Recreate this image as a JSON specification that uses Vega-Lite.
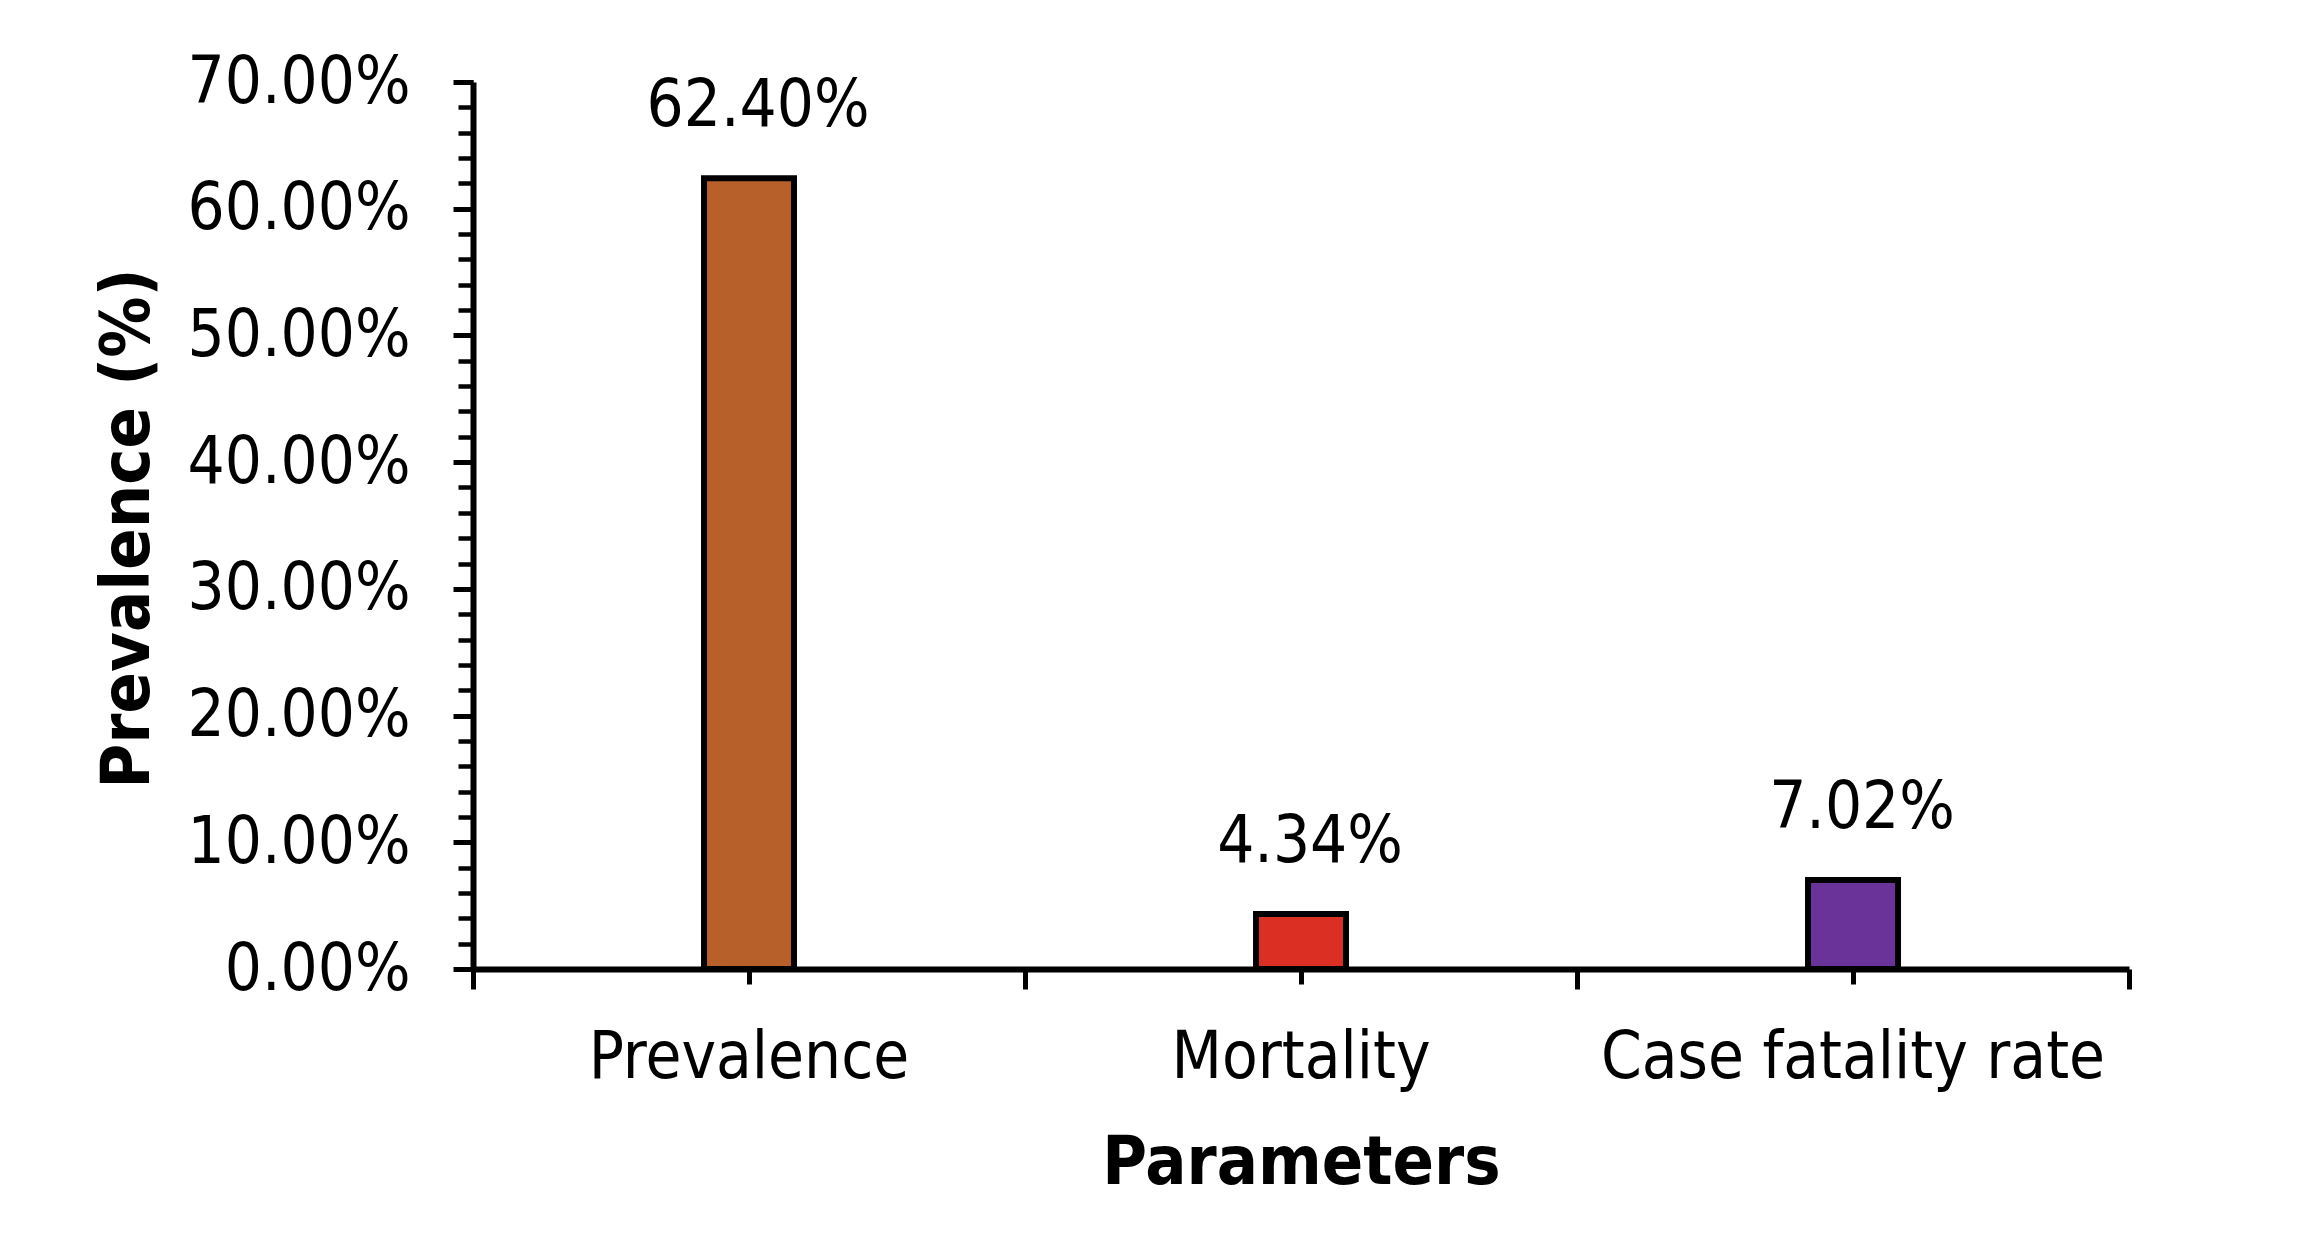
{
  "$schema": "https://vega.github.io/schema/vega-lite/v6.json",
  "autosize": {"type": "none"},
  "padding": {"left": 473, "top": 82, "right": 169, "bottom": 277},
  "width": 1656,
  "height": 887,
  "background": "white",
  "config": {
    "view": {"stroke": null},
    "font": "DejaVu Sans Condensed",
    "axis": {
      "labelFont": "DejaVu Sans Condensed",
      "titleFont": "DejaVu Sans Condensed",
      "labelColor": "black",
      "titleColor": "black",
      "domainColor": "black",
      "tickColor": "black",
      "labelLimit": 0,
      "titleLimit": 0,
      "grid": false
    }
  },
  "data": {
    "values": [
      {"parameter": "Prevalence", "value": 0.624},
      {"parameter": "Mortality", "value": 0.0434},
      {"parameter": "Case fatality rate", "value": 0.0702}
    ]
  },
  "layer": [
    {
      "mark": {"type": "bar", "width": {"band": 0.163}, "stroke": "black", "strokeWidth": 6, "strokeJoin": "miter"},
      "encoding": {
        "x": {
          "field": "parameter", "type": "nominal", "sort": null,
          "scale": {"paddingInner": 0, "paddingOuter": 0},
          "axis": {
            "orient": "bottom",
            "title": "Parameters",
            "titleFontSize": 68, "titleFontWeight": "bold",
            "titleBaseline": "alphabetic", "titleY": 214,
            "labelFontSize": 65, "labelAngle": 0, "labelPadding": 42,
            "tickSize": 15, "tickWidth": 5, "domainWidth": 6
          }
        },
        "y": {
          "field": "value", "type": "quantitative",
          "scale": {"domain": [0, 0.7], "nice": false},
          "axis": {
            "orient": "left",
            "title": "Prevalence (%)",
            "titleFontSize": 68, "titleFontWeight": "bold",
            "titleAngle": 270, "titleBaseline": "alphabetic",
            "titleX": -325, "titleY": 446, "titleAlign": "center",
            "values": [0, 0.1, 0.2, 0.3, 0.4, 0.5, 0.6, 0.7],
            "format": ".2%",
            "labelFontSize": 65, "labelPadding": 43,
            "tickSize": 20, "tickWidth": 5, "domainWidth": 6
          }
        },
        "color": {
          "field": "parameter", "type": "nominal", "sort": null,
          "scale": {"domain": ["Prevalence", "Mortality", "Case fatality rate"], "range": ["#B8602A", "#DA2F22", "#6A3399"]},
          "legend": null
        }
      }
    },
    {
      "mark": {"type": "text", "fontSize": 65, "baseline": "alphabetic", "align": "center", "dy": -52, "dx": 9, "color": "black", "font": "DejaVu Sans Condensed"},
      "encoding": {
        "x": {
          "field": "parameter", "type": "nominal", "sort": null,
          "axis": {
            "orient": "bottom", "title": null, "labels": false, "domain": false,
            "tickBand": "extent", "tickSize": 20, "tickWidth": 5
          }
        },
        "y": {
          "field": "value", "type": "quantitative",
          "axis": {
            "orient": "left", "title": null, "labels": false, "domain": false,
            "values": [0, 0.02, 0.04, 0.06, 0.08, 0.1, 0.12, 0.14, 0.16, 0.18, 0.2, 0.22, 0.24, 0.26, 0.28, 0.3, 0.32, 0.34, 0.36, 0.38, 0.4, 0.42, 0.44, 0.46, 0.48, 0.5, 0.52, 0.54, 0.56, 0.58, 0.6, 0.62, 0.64, 0.66, 0.68, 0.7],
            "tickSize": 15, "tickWidth": 4.5
          }
        },
        "text": {"field": "value", "type": "quantitative", "format": ".2%"}
      }
    }
  ],
  "resolve": {"axis": {"x": "independent", "y": "independent"}}
}
